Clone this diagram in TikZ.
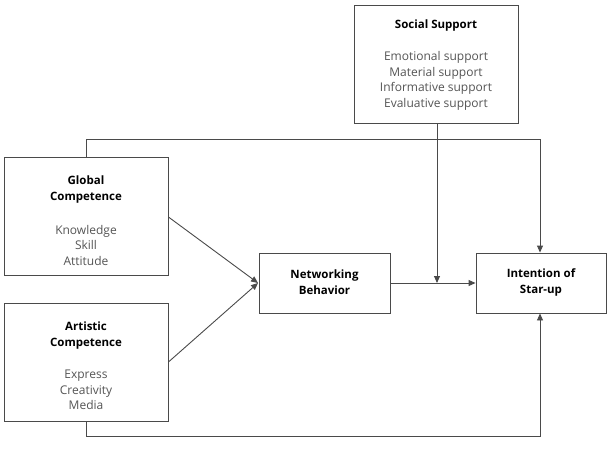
\documentclass[tikz,border=0pt]{standalone}
\usepackage{fontspec}
\setmainfont{Open Sans}
\usetikzlibrary{arrows.meta}
\definecolor{boxline}{HTML}{4A4A4A}
\definecolor{itemgray}{HTML}{555555}
\tikzset{
  box/.style={draw=boxline, line width=0.9pt, fill=white, inner sep=0pt},
  conn/.style={draw=boxline, line width=0.9pt},
  arr/.style={conn, -{Triangle[length=7pt,width=6pt]}},
  ttl/.style={font=\fontsize{11.5}{16}\selectfont\bfseries, align=center, text=black},
  itm/.style={font=\fontsize{12}{15.5}\selectfont, align=center, text=itemgray},
}
\begin{document}
\begin{tikzpicture}[x=1pt,y=-1pt]
\useasboundingbox (0,0) rectangle (607,449);
% boxes
\node[box, minimum width=164pt, minimum height=118pt] (ss) at (436,64) {};
\node[box, minimum width=164pt, minimum height=118pt] (gc) at (86,216) {};
\node[box, minimum width=164pt, minimum height=118pt] (ac) at (86,362) {};
\node[box, minimum width=131pt, minimum height=60pt] (nb) at (324.5,283) {};
\node[box, minimum width=130pt, minimum height=60pt] (is) at (541,283) {};
% texts
\node[ttl] (sst) at (436,26) {Social Support};
\node[itm] (ssi) at (436,81) {Emotional support\\Material support\\Informative support\\Evaluative support};
\node[ttl] (gct) at (86,190) {Global\\Competence};
\node[itm] (gci) at (86,245) {Knowledge\\Skill\\Attitude};
\node[ttl] (act) at (86,336) {Artistic\\Competence};
\node[itm] (aci) at (86,390) {Express\\Creativity\\Media};
\node[ttl] (nbt) at (324.5,282) {Networking\\Behavior};
\node[ttl] (ist) at (541,282) {Intention of\\Star-up};
% connectors
\coordinate (tip) at (258,283);
\coordinate (mid) at (437,283);
\draw[arr] (gc.east |- 0,217) -- (tip);
\draw[arr] (ac.east |- 0,362) -- (tip);
\draw[arr] (nb.east) -- (is.west);
\draw[arr] (ss.south -| mid) -- (mid);
\draw[arr] (gc.north) |- (540,139) -- (is.north -| 540,0);
\draw[arr] (ac.south) |- (540,436) -- (is.south -| 540,0);
\end{tikzpicture}
\end{document}
